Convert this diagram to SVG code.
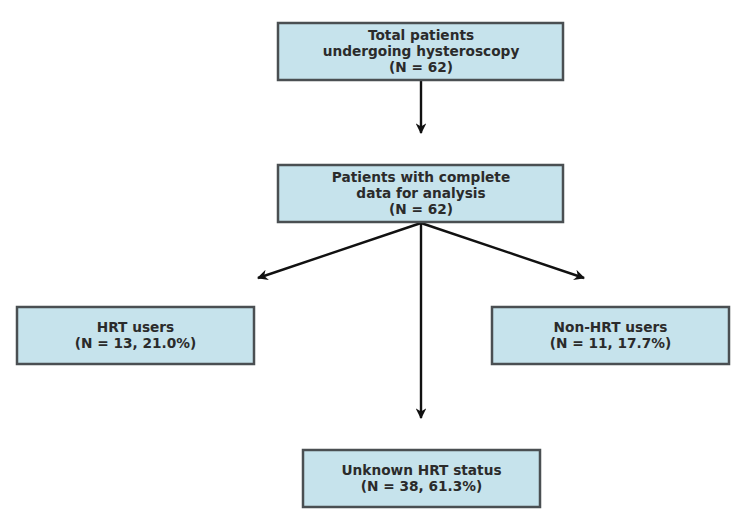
<svg xmlns="http://www.w3.org/2000/svg" width="750" height="523" viewBox="0 0 750 523">
<defs>
<marker id="ah" viewBox="0 0 10 10" refX="9" refY="5" markerWidth="4.5" markerHeight="4.5" orient="auto" markerUnits="strokeWidth">
<path d="M0,0 L10,5 L0,10 L3,5 Z" fill="#111"/>
</marker>
<style>
.box{fill:#c6e3ec;stroke:#4a4f52;stroke-width:2.5}
.t{font-family:"DejaVu Sans",sans-serif;font-weight:bold;font-size:13.7px;fill:#2b2b2b;text-anchor:middle}
.c{stroke:#111;stroke-width:2.4;fill:none;marker-end:url(#ah)}
</style>
</defs>
<rect width="750" height="523" fill="#fff"/>
<g id="connectors">
<line class="c" x1="421" y1="81" x2="421" y2="133"/>
<line class="c" x1="421" y1="223" x2="258" y2="278"/>
<line class="c" x1="421" y1="223" x2="584" y2="278"/>
<line class="c" x1="421" y1="223" x2="421" y2="418"/>
</g>
<g id="total">
<rect class="box" x="278" y="23" width="285" height="57"/>
<text class="t" x="421" y="40">Total patients</text>
<text class="t" x="421" y="56">undergoing hysteroscopy</text>
<text class="t" x="421" y="72">(N = 62)</text>
</g>
<g id="complete">
<rect class="box" x="278" y="165" width="285" height="57"/>
<text class="t" x="421" y="182">Patients with complete</text>
<text class="t" x="421" y="198">data for analysis</text>
<text class="t" x="421" y="214">(N = 62)</text>
</g>
<g id="hrt">
<rect class="box" x="17" y="307" width="237" height="57"/>
<text class="t" x="135.5" y="332">HRT users</text>
<text class="t" x="135.5" y="348">(N = 13, 21.0%)</text>
</g>
<g id="nonhrt">
<rect class="box" x="492" y="307" width="237" height="57"/>
<text class="t" x="610.5" y="332">Non-HRT users</text>
<text class="t" x="610.5" y="348">(N = 11, 17.7%)</text>
</g>
<g id="unknown">
<rect class="box" x="303" y="450" width="237" height="57"/>
<text class="t" x="421.5" y="475">Unknown HRT status</text>
<text class="t" x="421.5" y="491">(N = 38, 61.3%)</text>
</g>
</svg>
